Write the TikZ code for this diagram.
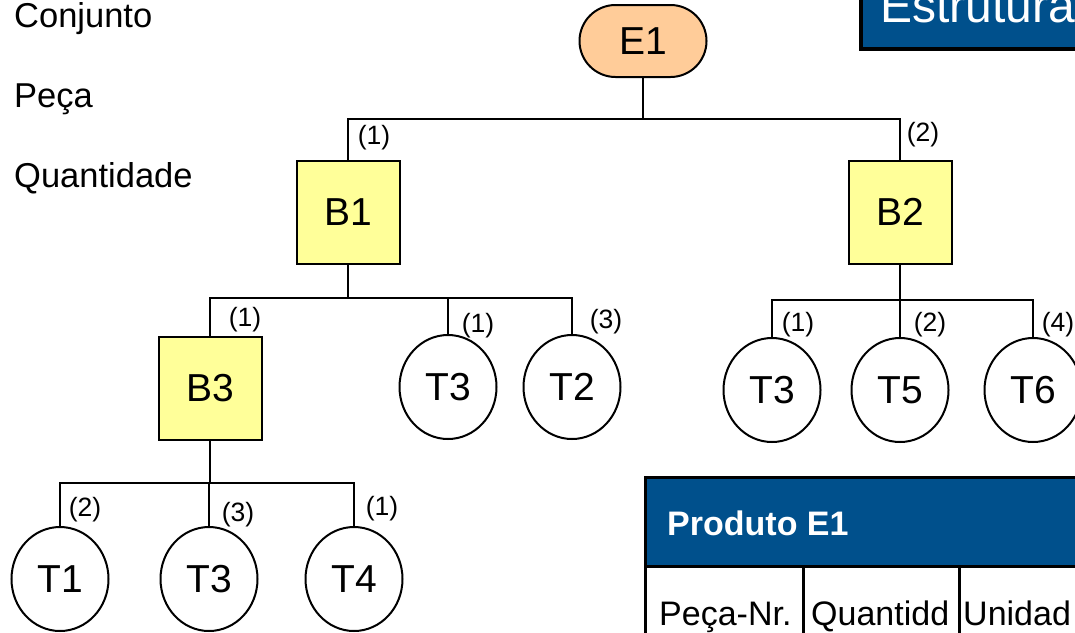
\documentclass[tikz,border=0pt]{standalone}
\usepackage{fontspec}
\setmainfont{Liberation Sans}
\usetikzlibrary{calc,shapes}
\definecolor{PeachE}{RGB}{255,204,153}
\definecolor{BoxYellow}{RGB}{255,255,153}
\definecolor{UniBlue}{RGB}{0,80,140}

\begin{document}
\begin{tikzpicture}[x=1pt,y=-1pt]
	\tikzstyle{every node}=[font=\fontsize{39}{42}\selectfont, inner sep=0pt];
	\tikzstyle{asm}=[draw, line width=2pt, fill=PeachE, rounded corners=36pt, minimum width=127pt, minimum height=72pt];
	\tikzstyle{part}=[draw, line width=2pt, fill=BoxYellow, minimum size=103pt];
	\tikzstyle{item}=[draw, line width=2pt, ellipse, minimum width=97pt, minimum height=104pt];
	\tikzstyle{qty}=[font=\fontsize{26.5}{29}\selectfont];
	\tikzstyle{side}=[font=\fontsize{34.5}{38}\selectfont, anchor=base west];
	\tikzstyle{wire}=[line width=2pt];
	\useasboundingbox (0,0) rectangle (1075,632);
	\clip (0,0) rectangle (1075,632);
	\node [side] (s1) at (14, 27) {Conjunto};
	\node [side] (s2) at (14, 107) {Peça};
	\node [side] (s3) at (14, 187) {Quantidade};
	\draw [line width=4pt, fill=UniBlue] (861, -10) rectangle (1090, 49);
	\node [anchor=base west, text=white, font=\fontsize{48}{52}\selectfont] (title) at (880, 22) {Estrutura};
	\node [asm] (E1) at (643, 41) {E1};
	\coordinate (j0) at (643, 119);
	\node [part] (B1) at (348, 212) {B1};
	\node [part] (B2) at (900, 212) {B2};
	\node [qty] (q01) at (374, 138) {(1)};
	\node [qty] (q02) at (923, 135) {(2)};
	\draw [wire] (E1) -- (j0);
	\draw [wire] (j0) -| (B1);
	\draw [wire] (j0) -| (B2);
	\coordinate (j1) at (348, 298);
	\node [part] (B3) at (210, 388) {B3};
	\node [item] (T3a) at (448, 387) {T3};
	\node [item] (T2) at (572, 387) {T2};
	\node [qty] (q11) at (245, 320) {(1)};
	\node [qty] (q12) at (478, 326) {(1)};
	\node [qty] (q13) at (606, 322) {(3)};
	\draw [wire] (B1) -- (j1);
	\draw [wire] (j1) -| (B3);
	\draw [wire] (j1) -| (T3a);
	\draw [wire] (j1) -| (T2);
	\coordinate (j2) at (900, 300);
	\node [item] (T3b) at (772, 390) {T3};
	\node [item] (T5) at (900, 390) {T5};
	\node [item] (T6) at (1033, 390) {T6};
	\node [qty] (q21) at (798, 325) {(1)};
	\node [qty] (q22) at (930, 325) {(2)};
	\node [qty] (q23) at (1058, 325) {(4)};
	\draw [wire] (B2) -- (j2);
	\draw [wire] (j2) -| (T3b);
	\draw [wire] (j2) -- (T5);
	\draw [wire] (j2) -| (T6);
	\coordinate (j3) at (210, 483);
	\node [item] (T1) at (60, 579) {T1};
	\node [item] (T3c) at (209, 579) {T3};
	\node [item] (T4) at (354, 579) {T4};
	\node [qty] (q31) at (85, 510) {(2)};
	\node [qty] (q32) at (238, 515) {(3)};
	\node [qty] (q33) at (382, 509) {(1)};
	\draw [wire] (B3) -- (j3);
	\draw [wire] (j3) -| (T1);
	\draw [wire] (j3) -| (T3c);
	\draw [wire] (j3) -| (T4);
	\draw [line width=3pt, fill=UniBlue] (645.5, 477.5) rectangle (1090, 566);
	\draw [line width=3pt] (645.5, 566) rectangle (1090, 650);
	\draw [line width=3pt] (803, 566) -- (803, 650);
	\draw [line width=3pt] (959, 566) -- (959, 650);
	\node [anchor=base west, text=white, font=\fontsize{34}{38}\selectfont\bfseries] (hdr) at (667, 535) {Produto E1};
	\node [anchor=base west, font=\fontsize{34}{37}\selectfont] (c1) at (659, 625) {Peça-Nr.};
	\node [anchor=base west, font=\fontsize{34}{37}\selectfont] (c2) at (811, 625) {Quantidd};
	\node [anchor=base west, font=\fontsize{34}{37}\selectfont] (c3) at (963, 625) {Unidad};
\end{tikzpicture}
\end{document}
